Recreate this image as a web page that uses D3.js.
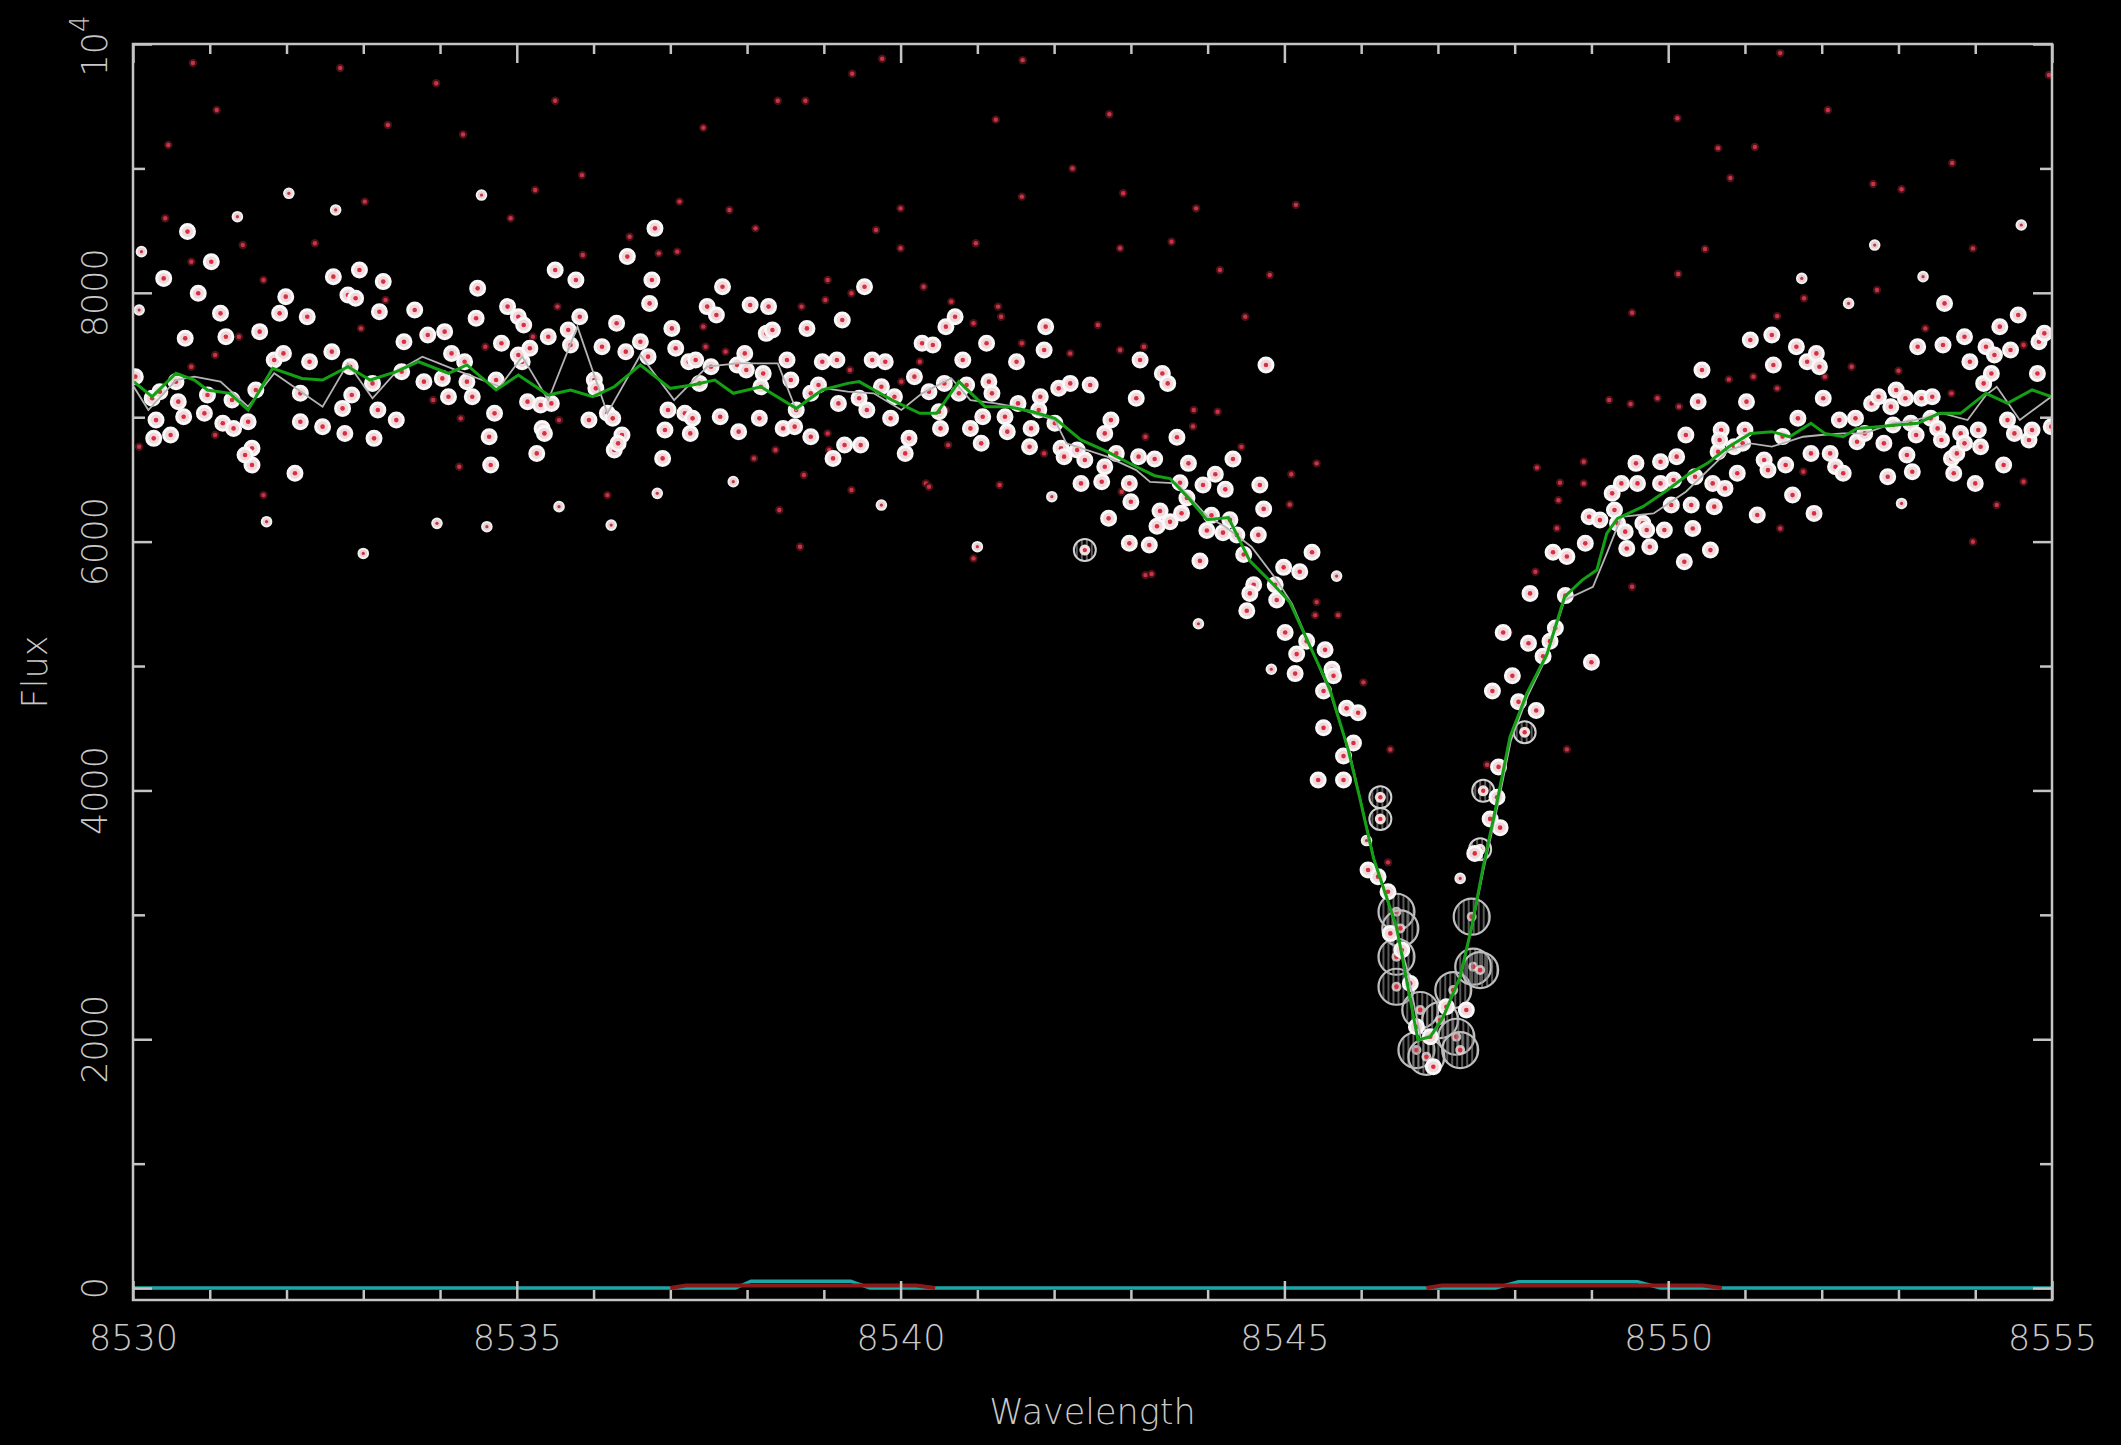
<!DOCTYPE html>
<html>
<head>
<meta charset="utf-8">
<script src="https://cdn.jsdelivr.net/npm/d3@7"></script>
<style>
  html, body { margin: 0; padding: 0; background: #000; }
  svg { display: block; }
</style>
</head>
<body>
<div id="chart"></div>
<script>
// ---- data: [wavelength, flux] ----
var mainPts = [
  [8530.03,7326],[8530.25,7152],[8530.35,7205],[8530.30,6977],[8530.27,6830],[8530.49,6857],[8530.56,7286],[8530.59,7125],
  [8530.66,7004],[8530.68,7634],[8530.85,7996],[8530.40,8116],[8530.71,8492],[8531.02,8250],[8531.14,7835],[8531.21,7647],
  [8530.93,7031],[8530.97,7178],[8531.17,6951],[8531.31,6910],[8531.29,7138],[8531.50,6964],[8531.60,7219],[8531.65,7688],
  [8531.55,6750],[8531.55,6616],[8531.46,6696],[8531.91,7835],[8531.84,7460],[8531.96,7513],[8531.99,7969],[8532.11,6549],
  [8532.18,7192],[8532.30,7446],[8532.27,7808],[8532.59,7527],[8532.61,8130],[8532.80,7982],[8532.90,7956],[8532.95,8183],
  [8532.83,7406],[8532.85,7178],[8532.73,7071],[8532.76,6870],[8532.47,6924],[8532.18,6964],[8533.12,7272],[8533.19,7058],
  [8533.14,6830],[8533.21,7848],[8533.26,8090],[8533.43,6977],[8533.53,7607],[8533.50,7366],[8533.67,7862],[8533.79,7286],
  [8533.84,7661],[8534.06,7688],[8534.03,7312],[8534.11,7165],[8534.15,7513],[8534.32,7446],[8534.35,7286],[8534.42,7165],
  [8534.49,8036],[8534.47,7795],[8534.71,7031],[8534.73,7299],[8534.80,7594],[8534.66,6616],[8534.64,6843],[8534.88,7889],
  [8535.02,7808],[8535.09,7741],[8535.07,7446],[8535.02,7500],[8535.14,7125],[8535.17,7554],[8535.31,7098],[8535.33,6910],
  [8535.36,6870],[8535.26,6709],[8535.41,7647],[8535.45,7111],[8535.50,8183],[8535.67,7701],[8535.70,7580],[8535.77,8103],
  [8535.82,7808],[8535.94,6977],[8536.01,7299],[8536.03,7232],[8536.11,7567],[8536.18,7031],[8536.25,6991],[8536.27,6736],
  [8536.37,6857],[8536.32,6790],[8536.30,7755],[8536.44,8291],[8536.42,7527],[8536.61,7607],[8536.71,7487],[8536.73,7915],
  [8536.76,8103],[8536.80,8518],[8536.90,6669],[8536.93,6897],[8536.97,7058],[8537.02,7714],[8537.07,7554],[8537.19,7031],
  [8537.26,6870],[8537.29,6991],[8537.24,7446],[8537.33,7460],[8537.38,7272],[8537.48,7889],
  [8537.68,8049],[8537.60,7822],[8538.04,7902],[8538.28,7889],[8538.25,7674],[8538.33,7701],[8539.24,7781],[8539.53,8049],
  [8538.78,7714],[8537.97,7513],[8537.87,7420],[8537.99,7379],[8537.53,7406],[8537.65,7004],[8537.89,6884],[8538.16,6991],
  [8538.21,7352],[8538.18,7245],[8538.52,7460],[8538.57,7299],[8538.64,7058],[8538.47,6910],[8538.62,6924],[8538.83,6843],
  [8538.83,7192],[8538.93,7259],[8538.98,7446],[8539.17,7460],[8539.19,7111],[8539.27,6776],[8539.48,6776],[8539.12,6669],
  [8539.46,7152],[8539.56,7058],[8539.63,7460],[8539.80,7446],[8539.75,7245],[8539.87,6991],[8539.92,7165],[8540.06,6709],
  [8540.11,6830],[8540.18,7326],[8540.28,7594],[8540.42,7580],[8540.37,7205],[8540.52,6910],[8540.50,7044],[8540.57,7272],
  [8540.59,7728],[8540.71,7808],[8540.76,7192],[8540.81,7460],[8540.86,7259],[8540.91,6910],[8541.05,6790],[8541.07,7004],
  [8541.12,7594],[8541.15,7286],[8541.19,7192],[8541.36,7004],[8541.39,6884],[8541.51,7446],[8541.53,7111],[8541.70,6910],
  [8541.68,6763],[8541.80,7058],[8541.82,7165],[8541.87,7540],[8541.89,7728],[8542.01,6951],[8542.06,7232],[8542.09,6750],
  [8542.13,6683],[8542.21,7272],[8542.30,6736],[8542.35,6468],[8542.40,6656],[8542.47,7259],[8542.62,6481],[8542.66,6870],
  [8542.66,6602],[8542.74,6977],[8542.71,6187],[8542.81,6709],[8542.98,6468],[8543.00,6321],[8542.98,5986],[8543.07,7152],
  [8543.12,7460],[8543.10,6683],[8543.24,5972],[8543.41,7352],[8543.48,7272],[8544.76,7420],
  [8543.31,6664],[8543.60,6839],[8543.75,6629],[8544.33,6664],[8543.94,6455],[8544.10,6542],[8544.23,6420],[8544.68,6455],
  [8544.73,6263],[8543.64,6473],[8543.73,6351],[8543.38,6246],[8543.66,6228],[8543.51,6159],[8543.34,6124],[8544.05,6211],
  [8544.29,6176],[8543.99,6089],[8544.20,6072],[8544.38,6054],[8544.66,6054],[8544.47,5897],[8543.90,5845],[8544.99,5793],
  [8545.20,5758],[8545.36,5915],[8544.60,5653],[8544.55,5584],[8544.88,5653],[8544.90,5531],[8544.51,5444],[8545.01,5270],
  [8545.29,5200],[8545.16,5096],[8545.53,5130],[8545.14,4939],[8545.62,4974],[8545.64,4921],[8545.51,4799],[8545.81,4660],
  [8545.96,4625],[8545.51,4503],[8545.90,4381],[8545.77,4276],[8545.44,4084],[8545.77,4084],
  [8547.68,3771],[8547.77,3945],[8547.81,3701],[8547.79,4189],[8548.05,4712],[8548.28,4642],[8547.71,4799],[8547.97,4921],
  [8548.18,5183],[8548.37,5078],[8548.46,5200],[8548.53,5305],[8548.66,5566],[8548.68,5880],[8548.50,5915],[8548.20,5584],
  [8547.85,5270],
  [8546.09,3360],[8546.22,3307],[8546.35,3186],[8546.38,2851],[8546.53,2717],[8546.64,2449],[8546.94,1779],[8547.37,2235],
  [8547.48,3494],[8546.90,2020],[8547.11,2261],[8546.72,2101],
  [8548.92,5986],[8548.97,6200],[8549.11,6173],[8549.30,6254],[8549.34,6147],[8549.44,6080],[8549.67,6147],[8549.72,6093],
  [8549.95,6093],[8549.76,5959],[8549.46,5945],[8549.27,6388],[8549.39,6468],[8549.60,6468],[8549.90,6468],[8550.07,6495],
  [8550.04,6294],[8550.30,6294],[8550.32,6106],[8550.21,5838],[8550.55,5932],[8550.60,6281],[8550.58,6468],[8550.74,6428],
  [8550.35,6522],[8549.58,6629],[8549.90,6642],[8550.11,6683],[8550.23,6857],[8550.44,7379],[8550.39,7125],[8550.65,6723],
  [8550.69,6897],[8550.67,6817],[8550.86,6763],[8550.90,6549],[8551.00,6897],[8550.97,6790],[8551.07,7621],[8551.02,7125],
  [8551.16,6214],[8551.25,6656],[8551.30,6575],[8551.35,7661],[8551.37,7420],[8551.49,6844],[8551.53,6616],[8551.62,6374],
  [8551.67,7567],[8551.69,6991],[8551.81,7446],[8551.86,6709],[8551.90,6227],[8551.93,7513],[8551.97,7406],[8552.02,7152],
  [8552.11,6709],[8552.18,6602],[8552.28,6549],[8552.23,6977],[8552.44,6991],[8552.46,6803],[8552.56,6870],[8552.65,7111],
  [8552.74,7165],[8552.81,6790],[8552.86,6522],[8552.90,7085],[8552.93,6937],[8552.97,7219],[8553.09,7152],[8553.11,6696],
  [8553.16,6951],[8553.18,6562],[8553.23,6857],[8553.25,7567],[8553.30,7152],[8553.42,6991],[8553.44,7165],[8553.51,6910],
  [8553.56,6817],[8553.58,7580],[8553.60,7915],[8553.69,6669],[8553.72,6549],[8553.76,6709],[8553.81,6870],[8553.86,7647],
  [8553.86,6790],[8553.93,7446],[8554.00,6468],[8554.04,6897],[8554.07,6763],[8554.11,7272],[8554.14,7567],[8554.21,7352],
  [8554.25,7500],[8554.32,7728],[8554.37,6616],[8554.42,6977],[8554.46,7540],[8554.51,6870],[8554.56,7822],[8554.70,6817],
  [8554.74,6897],[8554.81,7352],[8554.83,7607],[8554.90,7674],[8554.99,6924],[8549.00,5030]
];

var smallPts = [
  [8531.36,8612],[8532.03,8800],[8534.54,8786],[8532.64,8666],[8530.11,8331],[8530.08,7862],[8533.00,5905],[8533.96,6147],
  [8534.61,6120],[8531.74,6160],[8536.83,6388],[8535.55,6281],[8536.23,6133],
  [8539.75,6294],[8537.82,6482],[8541.00,5959],[8541.97,6361],
  [8545.68,5723],[8543.88,5340],[8544.83,4974],[8546.07,3597],[8547.29,3293],
  [8552.69,8384],[8553.32,8130],[8551.74,8116],[8553.04,6307],[8552.35,7915],[8554.60,8545]
];

var midPts = [
  [8542.40,5932],[8546.25,3945],[8546.25,3771],[8547.55,3527],[8548.13,4468],[8547.59,3997]
];

var bigPts = [
  [8546.46,3025],[8546.51,2891],[8546.46,2663],[8546.46,2422],[8546.77,2235],[8546.72,1913],[8546.85,1859],
  [8547.03,2154],[8547.20,2395],[8547.24,2020],[8547.29,1913],[8547.46,2583],[8547.55,2556],[8547.44,2985]
];

var faintPts = [
  [8530.42,8599],[8531.43,8384],[8532.37,8398],[8533.02,8733],[8534.92,8599],[8535.24,8827],[8537.12,8733],[8531.70,8103],
  [8531.38,7647],[8531.07,7500],[8530.76,7406],[8532.97,7714],[8533.29,7942],[8533.91,7138],[8534.27,6991],[8534.25,6602],
  [8531.70,6374],[8531.07,6857],[8535.55,6977],[8536.18,6374],[8534.59,7567],[8535.53,7889],[8535.86,8304],[8536.47,8451],
  [8536.85,8317],[8537.09,8331],[8535.21,7647],[8530.08,6763],[8537.43,7728],[8530.76,8250],
  [8537.77,8666],[8538.11,8518],[8539.68,8505],[8540.00,8679],[8540.00,8358],[8540.98,8398],[8541.58,8773],[8542.90,8800],
  [8542.86,8358],[8543.53,8411],[8543.85,8679],[8544.16,8183],[8544.49,7808],[8544.81,8143],[8540.30,8049],[8539.05,8103],
  [8539.36,7996],[8538.71,7889],[8539.02,7942],[8540.66,7929],[8541.27,7889],[8541.31,7808],[8542.57,7741],[8541.58,7594],
  [8542.21,7513],[8542.86,7540],[8543.17,7567],[8543.82,7058],[8544.13,7044],[8543.19,6843],[8542.88,6401],[8541.87,6709],
  [8540.62,6776],[8540.33,6468],[8539.36,6415],[8539.05,6870],[8539.07,6736],[8538.74,6535],[8538.37,6736],[8538.09,6669],
  [8538.42,6254],[8538.69,5959],[8540.95,5865],[8543.19,5731],[8537.72,7527],[8537.46,7567],[8539.34,7379],[8540.01,7286],
  [8540.25,7446],[8540.59,7058],[8540.95,7755],[8541.29,6455],[8540.37,6441],
  [8543.81,6926],[8544.44,6762],[8545.42,6629],[8545.09,6542],[8545.07,6298],[8545.42,5514],[8545.70,5409],[8545.40,5409],
  [8548.29,6595],[8548.59,6473],[8548.57,6333],[8548.55,6107],[8548.27,5758],[8547.92,5270],[8547.64,4207],[8546.38,4329],
  [8546.03,4869],[8546.35,3422],[8543.27,5740],
  [8548.90,6642],[8548.90,6468],[8549.53,5637],[8549.23,7138],[8549.51,7106],[8549.86,7152],[8550.14,7085],[8549.53,7840],
  [8550.13,8151],[8550.48,8352],[8550.79,7304],[8551.11,7326],[8551.42,7232],[8551.42,7813],[8551.77,7956],[8552.72,8022],
  [8553.04,8832],[8552.67,8875],[8553.97,8357],[8553.35,7714],[8553.00,7374],[8553.69,7192],[8554.63,6481],[8554.28,6294],
  [8553.97,5999],[8551.46,6106],[8551.76,6562],[8552.04,7326],[8552.39,7406],[8554.63,7580],[8548.68,4330],
  [8551.46,9927],[8552.08,9469],[8551.13,9172],[8550.81,8923],[8553.70,9043],[8554.96,9751],
  [8530.78,9847],[8531.09,9469],[8530.46,9188],[8532.70,9807],[8533.32,9349],[8533.95,9685],[8534.30,9272],[8535.50,9544],
  [8535.85,8946],[8537.43,9327],[8538.40,9544],[8538.76,9544],[8539.37,9761],[8539.76,9881],[8541.24,9392],[8541.59,9870],
  [8542.24,9000],[8542.72,9435],[8545.15,8707],[8550.12,9403],[8550.65,9163]
];

// binned fit (green) and raw mean (grey)
var fitLine = [
  [8530.01,7286],[8530.25,7165],[8530.56,7353],[8530.80,7299],[8530.97,7219],[8531.26,7192],[8531.50,7058],[8531.82,7393],
  [8532.20,7312],[8532.47,7299],[8532.80,7406],[8533.09,7299],[8533.43,7366],[8533.72,7446],[8534.11,7353],[8534.35,7420],
  [8534.73,7219],[8535.02,7339],[8535.41,7178],[8535.70,7219],[8535.99,7165],[8536.27,7245],[8536.61,7420],[8537.00,7232],
  [8537.29,7259],[8537.58,7299],[8537.82,7192],[8538.18,7245],[8538.64,7071],[8538.98,7219],[8539.31,7272],[8539.46,7286],
  [8539.89,7138],[8540.25,7031],[8540.47,7031],[8540.76,7286],[8541.10,7085],[8541.39,7085],[8541.72,7044],[8542.01,6991],
  [8542.35,6817],[8542.69,6723],[8543.07,6602],[8543.31,6530],[8543.51,6507],[8543.75,6351],[8543.99,6176],[8544.27,6194],
  [8544.55,5845],[8544.86,5653],[8545.07,5514],[8545.33,5165],[8545.59,4817],[8545.83,4329],[8545.98,3945],[8546.16,3457],
  [8546.46,2905],[8546.74,1993],[8546.90,2020],[8547.07,2181],[8547.29,2503],[8547.44,2905],[8547.59,3387],[8547.77,3910],
  [8547.94,4433],[8548.16,4782],[8548.42,5096],[8548.65,5557],[8548.88,5691],[8549.07,5771],[8549.20,6066],[8549.34,6187],
  [8549.67,6281],[8549.99,6415],[8550.28,6549],[8550.51,6629],[8550.79,6763],[8551.07,6870],[8551.35,6884],[8551.58,6843],
  [8551.86,6951],[8552.04,6870],[8552.28,6843],[8552.46,6910],[8552.74,6924],[8552.97,6937],[8553.25,6951],[8553.53,7031],
  [8553.81,7031],[8554.14,7192],[8554.42,7111],[8554.74,7219],[8554.99,7165]
];

var meanLine = [
  [8530.01,7245],[8530.20,7058],[8530.56,7299],[8530.80,7326],[8531.14,7286],[8531.50,7085],[8531.84,7353],[8532.47,7085],
  [8532.80,7433],[8533.12,7152],[8533.43,7366],[8533.77,7487],[8534.20,7380],[8534.78,7245],[8535.07,7487],[8535.41,7138],
  [8535.79,7728],[8536.18,7031],[8536.61,7500],[8537.05,7138],[8537.48,7406],[8537.87,7433],[8538.40,7433],[8538.64,7058],
  [8538.83,7165],[8539.02,7232],[8539.31,7205],[8539.65,7192],[8540.01,7058],[8540.28,7192],[8540.66,7313],[8540.91,7138],
  [8541.24,7111],[8541.48,7085],[8541.72,7031],[8542.01,6977],[8542.16,6790],[8542.69,6683],[8543.07,6575],[8543.25,6480],
  [8543.60,6468],[8543.80,6334],[8544.00,6200],[8544.23,6120],[8544.57,5959],[8544.90,5691],[8545.10,5500],[8545.35,5140],
  [8545.60,4780],[8545.85,4300],[8546.00,3900],[8546.18,3420],[8546.40,3000],[8546.60,2560],[8546.78,2000],[8546.95,2050],
  [8547.10,2210],[8547.30,2520],[8547.45,2920],[8547.60,3380],[8547.78,3880],[8547.95,4400],[8548.17,4760],[8548.42,5080],
  [8548.65,5530],[8549.02,5637],[8549.20,5905],[8549.39,6200],[8549.81,6227],[8550.23,6401],[8550.79,6736],[8551.07,6790],
  [8551.35,6763],[8551.76,6843],[8551.99,6857],[8552.28,6870],[8552.56,6870],[8552.93,6951],[8553.21,6977],[8553.58,7031],
  [8553.90,6977],[8554.14,7178],[8554.28,7245],[8554.58,6977],[8554.99,7165]
];

var skyLine = [
  [8530,0],[8537.85,0],[8538.05,55],[8539.35,55],[8539.6,0],[8547.75,0],[8548.05,50],[8549.6,50],[8549.9,0],[8555,0]
];
var residA = [[8537.0,0],[8537.2,20],[8540.2,20],[8540.45,0]];
var residB = [[8546.85,0],[8547.05,20],[8550.45,20],[8550.7,0]];

var xMajor = [8530, 8535, 8540, 8545, 8550, 8555];
var xMinor = d3.range(8530, 8556, 1).filter(function (d) { return d % 5 !== 0; });
var yMajor = [0, 2000, 4000, 6000, 8000, 10000];
var yLabels = ["0", "2000", "4000", "6000", "8000"];
var yMinor = [1000, 3000, 5000, 7000, 9000];

// ---- layout ----
var W = 2121, H = 1445;
var pL = 133, pR = 2052, pT = 44, pB = 1300;
var axisColor = "#c4c4c4";
var textColor = "#c8c8c8";
var fontFam = "'DejaVu Sans', 'Liberation Sans', sans-serif";
var fontSize = 35;
var fontWeight = 200;

var x = d3.scaleLinear().domain([8530, 8555]).range([pL, pR]);
var y = d3.scaleLinear().domain([-96, 10000]).range([pB, pT]);

var svg = d3.select("#chart").append("svg")
  .attr("width", W).attr("height", H)
  .style("background", "#000");

var defs = svg.append("defs");
defs.append("clipPath").attr("id", "plotclip")
  .append("rect").attr("x", pL).attr("y", pT).attr("width", pR - pL).attr("height", pB - pT);
var hatch = defs.append("pattern").attr("id", "hatch")
  .attr("width", 5).attr("height", 5).attr("patternUnits", "userSpaceOnUse");
hatch.append("line").attr("x1", 2).attr("y1", 0).attr("x2", 2).attr("y2", 5)
  .attr("stroke", "#8a8a8a").attr("stroke-width", 1.3);

var plot = svg.append("g").attr("clip-path", "url(#plotclip)");

function place(d) { return "translate(" + x(d[0]) + "," + y(d[1]) + ")"; }

// faint (low weight) points
var fg = plot.append("g").selectAll("g").data(faintPts).join("g").attr("transform", place);
fg.append("circle").attr("r", 4.2).attr("fill", "#4a1218");
fg.append("circle").attr("r", 2.2).attr("fill", "#c83444");

// big error circles in the core
var bg = plot.append("g").selectAll("g").data(bigPts).join("g").attr("transform", place);
bg.append("circle").attr("r", 18).attr("fill", "url(#hatch)")
  .attr("stroke", "#bdbdbd").attr("stroke-width", 2.2);
bg.append("circle").attr("r", 5).attr("fill", "#e8e0e0").attr("fill-opacity", 0.8);
bg.append("circle").attr("r", 2.4).attr("fill", "#d83040");

var mg = plot.append("g").selectAll("g").data(midPts).join("g").attr("transform", place);
mg.append("circle").attr("r", 11).attr("fill", "url(#hatch)")
  .attr("stroke", "#d0d0d0").attr("stroke-width", 2);
mg.append("circle").attr("r", 5.5).attr("fill", "#f2dede");
mg.append("circle").attr("r", 2.2).attr("fill", "#d83040");

// main points
var pg = plot.append("g").selectAll("g").data(mainPts).join("g").attr("transform", place);
pg.append("circle").attr("r", 7).attr("fill", "#f0d8dc")
  .attr("stroke", "#f8f8f8").attr("stroke-width", 3);
pg.append("circle").attr("r", 2.3).attr("fill", "#d83040");

var sg = plot.append("g").selectAll("g").data(smallPts).join("g").attr("transform", place);
sg.append("circle").attr("r", 4.8).attr("fill", "#e6d0d2")
  .attr("stroke", "#f0f0f0").attr("stroke-width", 2);
sg.append("circle").attr("r", 1.6).attr("fill", "#c83444");

// lines
var line = d3.line().x(function (d) { return x(d[0]); }).y(function (d) { return y(d[1]); });

plot.append("path").datum(meanLine).attr("d", line)
  .attr("fill", "none").attr("stroke", "#b4b4b4").attr("stroke-width", 1.8);
plot.append("path").datum(fitLine).attr("d", line)
  .attr("fill", "none").attr("stroke", "#14a014").attr("stroke-width", 3);

plot.append("path").datum(skyLine).attr("d", line)
  .attr("fill", "none").attr("stroke", "#1ea6a6").attr("stroke-width", 3.5);
[residA, residB].forEach(function (r) {
  plot.append("path").datum(r).attr("d", line)
    .attr("fill", "none").attr("stroke", "#8a1a1a").attr("stroke-width", 4);
});

// ---- frame and ticks ----
function ticks(gen, tr) {
  var g = svg.append("g").attr("transform", tr).call(gen);
  g.attr("font-family", fontFam).attr("font-size", fontSize).attr("color", axisColor);
  g.select(".domain").remove();
  g.selectAll("line").attr("stroke-width", 2.5);
  g.selectAll("text").attr("fill", textColor).attr("font-weight", fontWeight);
}
ticks(d3.axisBottom(x).tickValues(xMinor).tickSize(-10).tickFormat(""), "translate(0," + pB + ")");
ticks(d3.axisBottom(x).tickValues(xMajor).tickSize(-19).tickPadding(25).tickFormat(d3.format("d")), "translate(0," + pB + ")");
ticks(d3.axisTop(x).tickValues(xMinor).tickSize(-10).tickFormat(""), "translate(0," + pT + ")");
ticks(d3.axisTop(x).tickValues(xMajor).tickSize(-19).tickFormat(""), "translate(0," + pT + ")");
ticks(d3.axisLeft(y).tickValues(yMinor).tickSize(-12).tickFormat(""), "translate(" + pL + ",0)");
ticks(d3.axisLeft(y).tickValues(yMajor).tickSize(-19).tickFormat(""), "translate(" + pL + ",0)");
ticks(d3.axisRight(y).tickValues(yMinor).tickSize(-12).tickFormat(""), "translate(" + pR + ",0)");
ticks(d3.axisRight(y).tickValues(yMajor).tickSize(-19).tickFormat(""), "translate(" + pR + ",0)");

svg.append("rect").attr("x", pL).attr("y", pT)
  .attr("width", pR - pL).attr("height", pB - pT)
  .attr("fill", "none").attr("stroke", axisColor).attr("stroke-width", 2.5);

// y labels, rotated
svg.append("g").selectAll("text").data(yLabels).join("text")
  .attr("transform", function (d) { return "translate(107," + y(+d) + ") rotate(-90)"; })
  .attr("text-anchor", "middle")
  .attr("font-family", fontFam).attr("font-size", fontSize).attr("font-weight", fontWeight).attr("fill", textColor)
  .text(function (d) { return d; });

var topLab = svg.append("text")
  .attr("transform", "translate(107," + (y(10000) + 2) + ") rotate(-90)")
  .attr("text-anchor", "middle")
  .attr("font-family", fontFam).attr("font-size", fontSize).attr("font-weight", fontWeight).attr("fill", textColor);
topLab.append("tspan").text("10");
topLab.append("tspan").attr("dy", -18).attr("font-size", 26).text("4");

// axis titles
svg.append("text").attr("x", (pL + pR) / 2).attr("y", 1424)
  .attr("text-anchor", "middle")
  .attr("font-family", fontFam).attr("font-size", fontSize).attr("font-weight", fontWeight).attr("fill", textColor)
  .text("Wavelength");

svg.append("text")
  .attr("transform", "translate(47," + ((pT + pB) / 2) + ") rotate(-90)")
  .attr("text-anchor", "middle")
  .attr("font-family", fontFam).attr("font-size", fontSize).attr("font-weight", fontWeight).attr("fill", textColor)
  .text("Flux");
</script>
</body>
</html>
